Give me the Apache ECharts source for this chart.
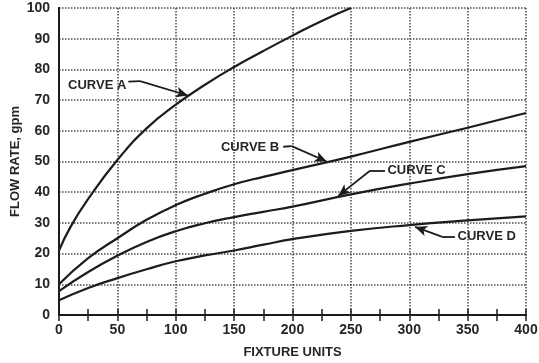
<!DOCTYPE html>
<html><head><meta charset="utf-8">
<script src="https://cdn.jsdelivr.net/npm/echarts@6/dist/echarts.min.js"></script>
<style>html,body{margin:0;padding:0;background:#fff}#c{width:539px;height:363px}</style>
</head><body><div id="c"></div>
<script>
// ---- data ----
const xTicks = [0, 50, 100, 150, 200, 250, 300, 350, 400];
const yTicks = [0, 10, 20, 30, 40, 50, 60, 70, 80, 90, 100];
const xCurveA = [0, 10, 25, 50, 75, 100, 125, 150, 175, 200, 225, 250];
const curveA  = [21, 28.8, 37.8, 50.5, 60.8, 68.5, 75, 80.8, 86, 91, 95.8, 100];
const xCurveBCD = [0, 25, 50, 75, 100, 125, 150, 175, 200, 250, 300, 350, 400];
const curveB  = [10, 18.5, 25, 31, 35.8, 39.5, 42.6, 45.0, 47.2, 51.6, 56.4, 61, 65.8];
const curveC  = [7.8, 14, 19.3, 23.8, 27.3, 29.9, 31.9, 33.6, 35.3, 39.3, 42.8, 45.9, 48.5];
const curveD  = [4.8, 8.8, 12, 14.9, 17.5, 19.4, 21, 22.9, 24.7, 27.4, 29.3, 30.8, 32.1];
const curveNames = ['CURVE A', 'CURVE B', 'CURVE C', 'CURVE D'];

// annotation anchors in data units: label anchor, arrow start, bend, tip
const annA = {label: [58.5, 74.9], start: [59.4, 76], bend: [69.4, 76.2], tip: [110.5, 71.5], side: 'left'};
const annB = {label: [189.5, 54.6], start: [192.1, 54.8], bend: [199.3, 55.0], tip: [229.3, 50.0], side: 'left'};
const annC = {label: [280.5, 47.0], start: [279.2, 47.0], bend: [266.4, 47.0], tip: [239.2, 38.8], side: 'right'};
const annD = {label: [340.5, 25.5], start: [339.1, 25.5], bend: [327.8, 25.5], tip: [305.0, 28.7], side: 'right'};

// ---- chart ----
const ink = '#1c1c1c';
const txt = '#262626';
const font = '"Liberation Sans", Arial, sans-serif';
const gridStyle = {color: '#4a4a4a', width: 1.5, type: [1.5, 1.5]};
function pairs(xs, ys) { return xs.map((x, i) => [x, ys[i]]); }

function annotated(name, xs, ys, ann) {
  return {
    name: name, type: 'line', xAxisIndex: 0, yAxisIndex: 0,
    data: pairs(xs, ys), smooth: 0.5,
    symbol: 'none', clip: true,
    lineStyle: {color: ink, width: 2.2},
    markLine: {
      silent: true, animation: false,
      label: {show: false},
      lineStyle: {color: ink, width: 1.8, type: 'solid'},
      data: [
        [{coord: ann.start, symbol: 'none'}, {coord: ann.bend, symbol: 'none'}],
        [{coord: ann.bend, symbol: 'none'}, {coord: ann.tip, symbol: 'arrow', symbolSize: [8, 12]}]
      ]
    },
    markPoint: {
      silent: true, animation: false,
      symbol: 'circle', symbolSize: 0,
      label: {show: true, position: ann.side, distance: 1, formatter: name,
              color: txt, fontFamily: font, fontSize: 13, fontWeight: 'bold'},
      data: [{coord: ann.label}]
    }
  };
}

const xTickAxis = (pos) => ({
  type: 'value', min: 0, max: 400, interval: 25, position: pos,
  axisLine: {show: true, lineStyle: {color: ink, width: 2}},
  axisTick: {show: true, inside: true, length: 6, lineStyle: {color: ink, width: 1.5}},
  axisLabel: {show: false}, splitLine: {show: false}
});

const chart = echarts.init(document.getElementById('c'), null, {renderer: 'canvas'});
const bottomAxis = xTickAxis('bottom');
Object.assign(bottomAxis, {
  name: 'FIXTURE UNITS', nameLocation: 'middle', nameGap: 31, nameMoveOverlap: false,
  nameTextStyle: {color: txt, fontFamily: font, fontSize: 13, fontWeight: 'bold'},
  axisLabel: {show: true, color: txt, fontFamily: font, fontSize: 14, fontWeight: 'bold', margin: 8,
              hideOverlap: false,
              formatter: v => xTicks.includes(v) ? String(v) : ''},
  splitLine: {show: true, lineStyle: Object.assign({}, gridStyle, {color: [gridStyle.color, 'rgba(0,0,0,0)']})}
});

chart.setOption({
  animation: false,
  backgroundColor: '#fff',
  grid: {left: 59, right: 13, top: 8, bottom: 48, containLabel: false, outerBoundsMode: 'none'},
  xAxis: [bottomAxis, xTickAxis('top')],
  yAxis: [{
    type: 'value', min: 0, max: 100, interval: 10, position: 'left',
    name: 'FLOW RATE, gpm', nameLocation: 'middle', nameGap: 37, nameRotate: 90, nameMoveOverlap: false,
    nameTextStyle: {color: txt, fontFamily: font, fontSize: 13, fontWeight: 'bold'},
    axisLine: {show: true, lineStyle: {color: ink, width: 2}},
    axisTick: {show: false},
    axisLabel: {color: txt, fontFamily: font, fontSize: 14, fontWeight: 'bold', margin: 9,
                formatter: v => yTicks.includes(v) ? String(v) : ''},
    splitLine: {show: true, lineStyle: gridStyle}
  }, {
    type: 'value', min: 0, max: 100, interval: 10, position: 'right',
    axisLine: {show: true, lineStyle: {color: ink, width: 2}},
    axisTick: {show: false}, axisLabel: {show: false}, splitLine: {show: false}
  }],
  series: [
    annotated(curveNames[0], xCurveA, curveA, annA),
    annotated(curveNames[1], xCurveBCD, curveB, annB),
    annotated(curveNames[2], xCurveBCD, curveC, annC),
    annotated(curveNames[3], xCurveBCD, curveD, annD)
  ]
});
</script>
</body></html>
